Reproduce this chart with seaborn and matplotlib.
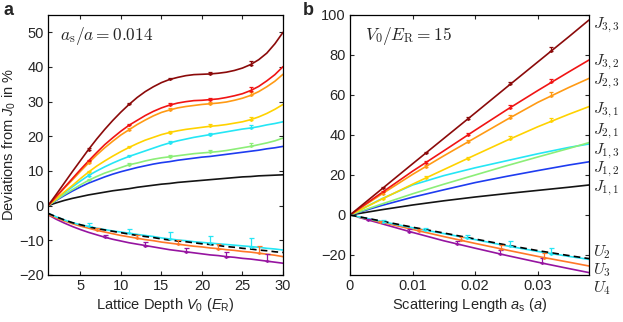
import numpy as np
import pandas as pd
import matplotlib
matplotlib.use("Agg")
import matplotlib.pyplot as plt
import seaborn as sns

# ---------------- data: panel a (vs lattice depth) ----------------
V0 = [1, 2, 3, 4, 5, 6, 7, 8, 9, 10, 11, 12, 13, 14, 15, 16, 17, 18, 19, 20, 21, 22, 23, 24, 25, 26, 27, 28, 29, 30]
a_darkred = [0, 3.2, 6.5, 9.8, 13.0, 16.2, 19.2, 22.0, 24.6, 27.0, 29.2, 31.2, 32.9, 34.3, 35.5, 36.4, 37.0, 37.5, 37.8, 37.9, 38.0, 38.2, 38.5, 39.0, 39.7, 40.7, 42.1, 44.0, 46.7, 50.0]
a_red     = [0, 2.6, 5.2, 7.8, 10.4, 12.9, 15.3, 17.6, 19.6, 21.5, 23.2, 24.6, 26.0, 27.2, 28.2, 29.0, 29.6, 30.0, 30.3, 30.4, 30.6, 30.8, 31.2, 31.7, 32.3, 33.2, 34.4, 36.0, 37.8, 40.1]
a_orange  = [0, 2.5, 5.0, 7.4, 9.9, 12.3, 14.6, 16.7, 18.6, 20.4, 21.9, 23.4, 24.7, 25.9, 26.9, 27.6, 28.2, 28.6, 28.9, 29.2, 29.4, 29.6, 29.9, 30.4, 31.0, 31.8, 32.9, 34.3, 35.9, 37.9]
a_yellow  = [0, 1.9, 3.9, 5.8, 7.8, 9.7, 11.4, 12.9, 14.3, 15.6, 16.8, 17.9, 18.9, 19.7, 20.5, 21.1, 21.6, 22.0, 22.3, 22.6, 22.9, 23.1, 23.4, 23.8, 24.2, 24.8, 25.6, 26.6, 27.8, 29.2]
a_cyan    = [0, 1.9, 3.7, 5.4, 7.1, 8.7, 10.0, 11.2, 12.3, 13.3, 14.2, 15.0, 15.8, 16.6, 17.4, 18.1, 18.7, 19.2, 19.7, 20.1, 20.5, 20.9, 21.3, 21.7, 22.1, 22.4, 22.8, 23.3, 23.7, 24.2]
a_green   = [0, 1.6, 3.2, 4.6, 6.0, 7.3, 8.4, 9.4, 10.2, 11.0, 11.8, 12.3, 12.9, 13.4, 13.8, 14.1, 14.4, 14.7, 15.0, 15.2, 15.4, 15.6, 15.9, 16.3, 16.7, 17.1, 17.6, 18.1, 18.7, 19.5]
a_blue    = [0, 1.5, 2.9, 4.2, 5.4, 6.5, 7.4, 8.3, 9.1, 9.8, 10.4, 11.0, 11.5, 12.0, 12.4, 12.7, 13.1, 13.4, 13.7, 14.0, 14.2, 14.5, 14.8, 15.1, 15.4, 15.7, 16.0, 16.4, 16.7, 17.1]
a_black   = [0, 0.8, 1.5, 2.1, 2.6, 3.1, 3.5, 3.9, 4.3, 4.6, 4.9, 5.3, 5.6, 5.9, 6.2, 6.4, 6.7, 6.9, 7.1, 7.3, 7.5, 7.7, 7.9, 8.1, 8.3, 8.4, 8.6, 8.7, 8.8, 8.9]
a_U2      = [-2.2, -3.2, -4.1, -4.9, -5.5, -6.0, -6.5, -6.9, -7.3, -7.6, -7.95, -8.3, -8.6, -8.9, -9.3, -9.6, -9.9, -10.1, -10.4, -10.6, -10.8, -11.0, -11.2, -11.4, -11.6, -11.8, -12.0, -12.3, -12.5, -12.8]
a_U2th    = [-2.2, -3.2, -4.1, -4.9, -5.5, -6.1, -6.6, -7.0, -7.4, -7.8, -8.2, -8.6, -8.9, -9.2, -9.6, -9.9, -10.2, -10.4, -10.7, -11.0, -11.2, -11.5, -11.8, -12.0, -12.3, -12.5, -12.8, -13.0, -13.3, -13.5]
a_U3      = [-2.6, -3.5, -4.4, -5.2, -5.9, -6.5, -7.1, -7.6, -8.1, -8.6, -9.0, -9.4, -9.8, -10.1, -10.5, -10.8, -11.1, -11.4, -11.7, -11.9, -12.2, -12.4, -12.7, -12.9, -13.2, -13.4, -13.7, -14.0, -14.3, -14.7]
a_U4      = [-2.6, -3.9, -5.0, -6.0, -6.9, -7.7, -8.4, -9.1, -9.7, -10.2, -10.7, -11.1, -11.5, -11.9, -12.3, -12.7, -13.0, -13.3, -13.6, -13.9, -14.2, -14.4, -14.7, -14.9, -15.2, -15.4, -15.7, -16.0, -16.3, -16.6]

# error-bar points, panel a
a_err_V_top = [6, 11, 16, 21, 26]
a_err_top = [0.4, 0.5, 0.5, 0.6, 0.9]
a_err_V_U2 = [6, 11, 16, 21, 26]
a_err_U2 = [1.0, 1.2, 1.9, 2.0, 2.6]
a_err_V_U3 = [7, 12, 17, 22, 27]
a_err_U3 = [0.8, 1.0, 1.2, 1.4, 2.2]
a_err_V_U4 = [8, 13, 18, 23, 28]
a_err_U4 = [0.6, 1.0, 1.2, 1.3, 2.1]

# ---------------- data: panel b (vs scattering length) ----------------
a_s = [0, 0.005, 0.01, 0.015, 0.02, 0.025, 0.03, 0.035, 0.0382]
b_J33 = [0, 12.8, 25.6, 38.3, 51.0, 63.8, 76.5, 89.2, 97.5]
b_J32 = [0, 11.0, 21.9, 32.1, 42.4, 52.5, 62.2, 71.6, 77.5]
b_J23 = [0, 10.3, 20.3, 29.6, 38.6, 47.6, 56.3, 63.8, 68.3]
b_J31 = [0, 7.8, 15.4, 22.7, 30.0, 37.2, 44.1, 50.4, 54.2]
b_J21 = [0, 5.4, 10.6, 15.4, 20.0, 24.6, 29.0, 33.3, 36.2]
b_J13 = [0, 8.0, 15.0, 19.7, 23.6, 27.1, 30.6, 33.8, 35.5]
b_J12 = [0, 4.7, 8.9, 12.6, 16.2, 19.3, 22.2, 25.0, 26.6]
b_J11 = [0, 2.6, 5.0, 7.1, 9.0, 10.7, 12.3, 13.9, 15.0]
b_U2   = [0, -3.2, -6.4, -9.3, -12.3, -15.4, -18.2, -20.7, -22.2]
b_U2th = [0, -3.0, -6.1, -9.0, -12.0, -15.0, -17.8, -20.3, -21.8]
b_U3   = [0, -3.6, -7.2, -10.8, -14.2, -17.5, -20.7, -23.6, -25.5]
a_s_U4 = [0.0012, 0.005, 0.01, 0.015, 0.02, 0.025, 0.03, 0.035, 0.0382]
b_U4   = [-1.0, -4.3, -8.7, -12.9, -16.6, -20.2, -23.6, -26.8, -28.8]

b_err_x_top = [0.0052, 0.0121, 0.0188, 0.0256, 0.0322]
b_err_top = [0.6, 0.8, 1.0, 1.3, 1.8]
b_err_x_U2 = [0.0052, 0.012, 0.0187, 0.0255, 0.0322]
b_err_U2 = [0.6, 1.3, 1.7, 2.5, 2.8]
b_err_x_U3 = [0.0048, 0.011, 0.0177, 0.0242, 0.031]
b_err_U3 = [0.6, 1.0, 1.5, 2.0, 2.4]
b_err_x_U4 = [0.0028, 0.0095, 0.0171, 0.0239, 0.0307]
b_err_U4 = [0.5, 1.2, 1.6, 2.0, 2.4]

right_labels = ["$J_{3,3}$", "$J_{3,2}$", "$J_{2,3}$", "$J_{3,1}$", "$J_{2,1}$",
                "$J_{1,3}$", "$J_{1,2}$", "$J_{1,1}$", "$U_2$", "$U_3$", "$U_4$"]
right_label_y = [95, 76.5, 67, 52.5, 42, 32, 23, 13.5, -18.5, -27.5, -36.5]

# ---------------- styling ----------------
C_DR = "#8b0a0a"
C_R = "#f01414"
C_O = "#ff9a14"
C_Y = "#ffd200"
C_C = "#25e6f5"
C_G = "#8cee78"
C_B = "#1e3cf0"
C_K = "#141414"
C_U3 = "#ff7828"
C_U4 = "#9614a0"

sns.set_style("ticks")
plt.rcParams["font.family"] = ["Liberation Sans", "DejaVu Sans"]
plt.rcParams["mathtext.fontset"] = "custom"
plt.rcParams["mathtext.rm"] = "Liberation Sans"
plt.rcParams["mathtext.it"] = "Liberation Sans:italic"
plt.rcParams["mathtext.bf"] = "Liberation Sans:bold"

fig = plt.figure(figsize=(6.23, 3.22), dpi=100)
axA = fig.add_axes([48 / 623, 1 - 275 / 322, 235 / 623, 260 / 322])
axB = fig.add_axes([350 / 623, 1 - 275 / 322, 239 / 623, 260 / 322])

LW = 1.2


def curve(ax, x, y, color, ls="-"):
    df = pd.DataFrame({"x": x, "y": y})
    sns.lineplot(data=df, x="x", y="y", ax=ax, color=color, lw=LW, linestyle=ls,
                 estimator=None, sort=False, legend=False)


def ebars(ax, xs, xcurve, ycurve, err, color, cap=1.8):
    yp = np.interp(xs, xcurve, ycurve)
    ax.errorbar(xs, yp, yerr=[np.zeros(len(err)), err], fmt="o", ms=1.0,
                color=color, ecolor=color, elinewidth=0.9, capsize=cap,
                capthick=0.9, zorder=4)


# panel a
top_a = [(a_darkred, C_DR), (a_red, C_R), (a_orange, C_O), (a_yellow, C_Y),
         (a_cyan, C_C), (a_green, C_G), (a_blue, C_B), (a_black, C_K)]
for y, c in top_a[::-1]:
    curve(axA, V0, y, c)
for y, c in top_a[:6]:
    ebars(axA, a_err_V_top, V0, y, a_err_top, c, cap=1.5)
curve(axA, V0, a_U4, C_U4)
curve(axA, V0, a_U3, C_U3)
curve(axA, V0, a_U2, C_C)
curve(axA, V0, a_U2th, "black", ls=(0, (4, 2.5)))
ebars(axA, a_err_V_U2, V0, a_U2, a_err_U2, C_C)
ebars(axA, a_err_V_U3, V0, a_U3, a_err_U3, C_U3)
ebars(axA, a_err_V_U4, V0, a_U4, a_err_U4, C_U4)

axA.set_xlim(1, 30)
axA.set_ylim(-20, 55)
axA.set_xticks([5, 10, 15, 20, 25, 30])
axA.set_yticks([-20, -10, 0, 10, 20, 30, 40, 50])
axA.set_xticklabels(["5", "10", "15", "20", "25", "30"])
axA.set_yticklabels(["\u221220", "\u221210", "0", "10", "20", "30", "40", "50"])
axA.set_xlabel(r"Lattice Depth $V_0$ ($E_\mathrm{R}$)", fontsize=10.5, labelpad=2)
axA.set_ylabel(r"Deviations from $J_0$ in %", fontsize=10.5, labelpad=1)
axA.text(0.05, 0.92, r"$a_\mathrm{s}/a = 0.014$", transform=axA.transAxes,
         fontsize=12.5, va="center", ha="left", math_fontfamily="cm")

# panel b
top_b = [(b_J33, C_DR), (b_J32, C_R), (b_J23, C_O), (b_J31, C_Y),
         (b_J21, C_G), (b_J13, C_C), (b_J12, C_B), (b_J11, C_K)]
for y, c in top_b[::-1]:
    curve(axB, a_s, y, c)
for y, c in top_b[:4]:
    ebars(axB, b_err_x_top, a_s, y, b_err_top, c, cap=1.5)
curve(axB, a_s_U4, b_U4, C_U4)
curve(axB, a_s, b_U3, C_U3)
curve(axB, a_s, b_U2, C_C)
curve(axB, a_s, b_U2th, "black", ls=(0, (4, 2.5)))
ebars(axB, b_err_x_U2, a_s, b_U2, b_err_U2, C_C)
ebars(axB, b_err_x_U3, a_s, b_U3, b_err_U3, C_U3)
ebars(axB, b_err_x_U4, a_s_U4, b_U4, b_err_U4, C_U4)

axB.set_xlim(0, 0.0382)
axB.set_ylim(-30, 100)
axB.set_xticks([0, 0.01, 0.02, 0.03])
axB.set_xticklabels(["0", "0.01", "0.02", "0.03"])
axB.set_yticks([-20, 0, 20, 40, 60, 80, 100])
axB.set_yticklabels(["\u221220", "0", "20", "40", "60", "80", "100"])
axB.set_xlabel(r"Scattering Length $a_\mathrm{s}$ ($a$)", fontsize=10.5, labelpad=2)
axB.set_ylabel("")
axB.text(0.063, 0.92, r"$V_0/E_\mathrm{R} = 15$", transform=axB.transAxes,
         fontsize=12.5, va="center", ha="left", math_fontfamily="cm")
for lab, yv in zip(right_labels, right_label_y):
    axB.text(1.015, yv, lab, transform=axB.get_yaxis_transform(), fontsize=11.5,
             va="center", ha="left", math_fontfamily="cm", clip_on=False)

for ax in (axA, axB):
    ax.tick_params(direction="in", top=True, right=True, length=3, width=0.8,
                   labelsize=10.5, pad=3)
    for s in ax.spines.values():
        s.set_linewidth(0.9)
        s.set_color("black")

fig.text(3 / 623, 1 - 2 / 322, "a", fontsize=13, fontweight="bold", va="top", ha="left")
fig.text(303 / 623, 1 - 2 / 322, "b", fontsize=13, fontweight="bold", va="top", ha="left")

fig.savefig("out.png", dpi=100)
